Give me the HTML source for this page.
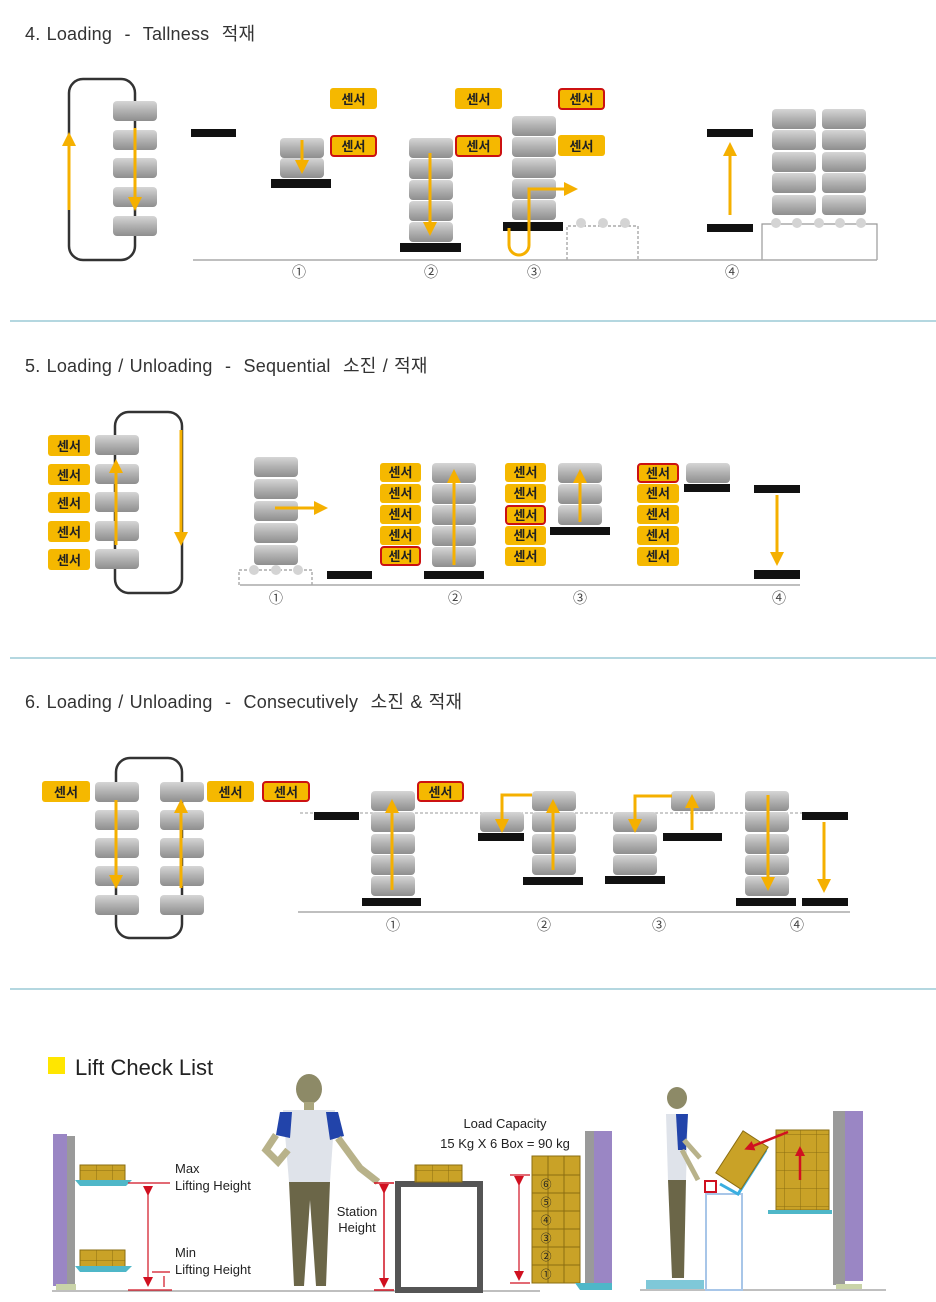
<!DOCTYPE html>
<html><head><meta charset="utf-8">
<style>
html,body{margin:0;padding:0;background:#fff;}
svg{display:block;}
text{font-family:"Liberation Sans","Noto Sans CJK KR",sans-serif;}
.t{font-size:18px;fill:#333;white-space:pre;letter-spacing:0.2px;word-spacing:1px;}
.s{font-size:13px;font-weight:bold;fill:#222;}
.n{font-size:14px;fill:#444;}
.sm{font-size:13px;fill:#222;}
</style></head><body>
<svg width="936" height="1302" viewBox="0 0 936 1302" xmlns="http://www.w3.org/2000/svg">
<defs>
<linearGradient id="tg" x1="0" y1="0" x2="0" y2="1">
<stop offset="0" stop-color="#d6d6d6"/><stop offset="0.45" stop-color="#b4b4b4"/><stop offset="1" stop-color="#8e8e8e"/>
</linearGradient>
<symbol id="tote" viewBox="0 0 44 20" width="44" height="20" overflow="visible"><rect x="0" y="0" width="44" height="20" rx="4" fill="url(#tg)"/></symbol>
<marker id="ahb" markerWidth="14" markerHeight="14" refX="8" refY="7" orient="auto" markerUnits="userSpaceOnUse" viewBox="0 0 14 14"><path d="M0,0 L14,7 L0,14 z" fill="#f5b000"/></marker>
<marker id="rh" markerWidth="10" markerHeight="10" refX="6" refY="5" orient="auto" markerUnits="userSpaceOnUse" viewBox="0 0 10 10"><path d="M0,0 L10,5 L0,10 z" fill="#d01020"/></marker>
<pattern id="box" width="16" height="18" patternUnits="userSpaceOnUse"><rect width="16" height="18" fill="#c9a227"/><path d="M0,0 H16 M0,0 V18" stroke="#8a6d12" stroke-width="1"/></pattern>
</defs>

<!-- ===== Section 4 ===== -->
<text x="25" y="40" class="t">4. Loading  -  Tallness  적재</text>
<rect x="69" y="79" width="66" height="181" rx="14" fill="none" stroke="#333" stroke-width="2.5"/>
<use href="#tote" x="113" y="101"/>
<use href="#tote" x="113" y="130"/>
<use href="#tote" x="113" y="158"/>
<use href="#tote" x="113" y="187"/>
<use href="#tote" x="113" y="216"/>
<g stroke="#f5b000" stroke-width="3" fill="none">
<line x1="69" y1="210" x2="69" y2="138" marker-end="url(#ahb)"/>
<line x1="135" y1="128" x2="135" y2="205" marker-end="url(#ahb)"/>
</g>
<rect x="191" y="129" width="45" height="8" fill="#111"/>
<g>
<rect x="330" y="88" width="47" height="21" rx="3" fill="#f5b800"/><text x="353.5" y="104" text-anchor="middle" class="s">센서</text>
<rect x="331" y="136" width="45" height="20" rx="3" fill="#f5b800" stroke="#cc1111" stroke-width="2"/><text x="353.5" y="151" text-anchor="middle" class="s">센서</text>
<rect x="455" y="88" width="47" height="21" rx="3" fill="#f5b800"/><text x="478.5" y="104" text-anchor="middle" class="s">센서</text>
<rect x="456" y="136" width="45" height="20" rx="3" fill="#f5b800" stroke="#cc1111" stroke-width="2"/><text x="478.5" y="151" text-anchor="middle" class="s">센서</text>
<rect x="559" y="89" width="45" height="20" rx="3" fill="#f5b800" stroke="#cc1111" stroke-width="2"/><text x="581.5" y="104" text-anchor="middle" class="s">센서</text>
<rect x="558" y="135" width="47" height="21" rx="3" fill="#f5b800"/><text x="581.5" y="151" text-anchor="middle" class="s">센서</text>
</g>
<use href="#tote" x="280" y="138"/><use href="#tote" x="280" y="158"/>
<rect x="271" y="179" width="60" height="9" fill="#111"/>
<line x1="302" y1="140" x2="302" y2="168" stroke="#f5b000" stroke-width="3" marker-end="url(#ahb)"/>
<use href="#tote" x="409" y="138"/><use href="#tote" x="409" y="159"/><use href="#tote" x="409" y="180"/><use href="#tote" x="409" y="201"/><use href="#tote" x="409" y="222"/>
<rect x="400" y="243" width="61" height="9" fill="#111"/>
<line x1="430" y1="153" x2="430" y2="230" stroke="#f5b000" stroke-width="3" marker-end="url(#ahb)"/>
<use href="#tote" x="512" y="116"/><use href="#tote" x="512" y="137"/><use href="#tote" x="512" y="158"/><use href="#tote" x="512" y="179"/><use href="#tote" x="512" y="200"/>
<rect x="503" y="222" width="60" height="9" fill="#111"/>
<path d="M509,228 V245 A10,10 0 0 0 529,245 V189 H572" fill="none" stroke="#f5b000" stroke-width="3" marker-end="url(#ahb)"/>
<path d="M567,260 V226 H638 V260" fill="none" stroke="#999" stroke-width="1.2" stroke-dasharray="3,2"/>
<g fill="#d4d4d4"><circle cx="581" cy="223" r="5"/><circle cx="603" cy="223" r="5"/><circle cx="625" cy="223" r="5"/></g>
<rect x="707" y="129" width="46" height="8" fill="#111"/>
<rect x="707" y="224" width="46" height="8" fill="#111"/>
<line x1="730" y1="215" x2="730" y2="148" stroke="#f5b000" stroke-width="3" marker-end="url(#ahb)"/>
<g>
<use href="#tote" x="772" y="109"/><use href="#tote" x="772" y="130"/><use href="#tote" x="772" y="152"/><use href="#tote" x="772" y="173"/><use href="#tote" x="772" y="195"/>
<use href="#tote" x="822" y="109"/><use href="#tote" x="822" y="130"/><use href="#tote" x="822" y="152"/><use href="#tote" x="822" y="173"/><use href="#tote" x="822" y="195"/>
</g>
<path d="M762,260 V224 H877 V260" fill="none" stroke="#999" stroke-width="1.2"/>
<g fill="#d4d4d4"><circle cx="776" cy="223" r="5"/><circle cx="797" cy="223" r="5"/><circle cx="819" cy="223" r="5"/><circle cx="840" cy="223" r="5"/><circle cx="861" cy="223" r="5"/></g>
<line x1="193" y1="260" x2="877" y2="260" stroke="#aaa" stroke-width="1.5"/>
<g class="n" text-anchor="middle"><text x="299" y="277">①</text><text x="431" y="277">②</text><text x="534" y="277">③</text><text x="732" y="277">④</text></g>
<line x1="10" y1="321" x2="936" y2="321" stroke="#9ccad6" stroke-width="1.5"/>

<!-- ===== Section 5 ===== -->
<text x="25" y="372" class="t">5. Loading / Unloading  -  Sequential  소진 / 적재</text>
<rect x="115" y="412" width="67" height="181" rx="14" fill="none" stroke="#333" stroke-width="2.5"/>
<g>
<rect x="48" y="435" width="42" height="21" rx="3" fill="#f5b800"/><text x="69" y="451" text-anchor="middle" class="s">센서</text>
<rect x="48" y="464" width="42" height="21" rx="3" fill="#f5b800"/><text x="69" y="480" text-anchor="middle" class="s">센서</text>
<rect x="48" y="492" width="42" height="21" rx="3" fill="#f5b800"/><text x="69" y="508" text-anchor="middle" class="s">센서</text>
<rect x="48" y="521" width="42" height="21" rx="3" fill="#f5b800"/><text x="69" y="537" text-anchor="middle" class="s">센서</text>
<rect x="48" y="549" width="42" height="21" rx="3" fill="#f5b800"/><text x="69" y="565" text-anchor="middle" class="s">센서</text>
</g>
<use href="#tote" x="95" y="435"/><use href="#tote" x="95" y="464"/><use href="#tote" x="95" y="492"/><use href="#tote" x="95" y="521"/><use href="#tote" x="95" y="549"/>
<line x1="116" y1="545" x2="116" y2="465" stroke="#f5b000" stroke-width="3" marker-end="url(#ahb)"/>
<line x1="181" y1="430" x2="181" y2="540" stroke="#f5b000" stroke-width="3" marker-end="url(#ahb)"/>
<use href="#tote" x="254" y="457"/><use href="#tote" x="254" y="479"/><use href="#tote" x="254" y="501"/><use href="#tote" x="254" y="523"/><use href="#tote" x="254" y="545"/>
<path d="M239,585 V570 H312 V585" fill="none" stroke="#999" stroke-width="1.2" stroke-dasharray="3,2"/>
<g fill="#d4d4d4"><circle cx="254" cy="570" r="5"/><circle cx="276" cy="570" r="5"/><circle cx="298" cy="570" r="5"/></g>
<line x1="275" y1="508" x2="322" y2="508" stroke="#f5b000" stroke-width="3" marker-end="url(#ahb)"/>
<rect x="327" y="571" width="45" height="8" fill="#111"/>
<g>
<rect x="380" y="463" width="41" height="19" rx="3" fill="#f5b800"/><text x="400.5" y="477" text-anchor="middle" class="s">센서</text>
<rect x="380" y="484" width="41" height="19" rx="3" fill="#f5b800"/><text x="400.5" y="498" text-anchor="middle" class="s">센서</text>
<rect x="380" y="505" width="41" height="19" rx="3" fill="#f5b800"/><text x="400.5" y="519" text-anchor="middle" class="s">센서</text>
<rect x="380" y="526" width="41" height="19" rx="3" fill="#f5b800"/><text x="400.5" y="540" text-anchor="middle" class="s">센서</text>
<rect x="381" y="547" width="39" height="18" rx="3" fill="#f5b800" stroke="#cc1111" stroke-width="2"/><text x="400.5" y="561" text-anchor="middle" class="s">센서</text>
</g>
<use href="#tote" x="432" y="463"/><use href="#tote" x="432" y="484"/><use href="#tote" x="432" y="505"/><use href="#tote" x="432" y="526"/><use href="#tote" x="432" y="547"/>
<rect x="424" y="571" width="60" height="8" fill="#111"/>
<line x1="454" y1="565" x2="454" y2="475" stroke="#f5b000" stroke-width="3" marker-end="url(#ahb)"/>
<g>
<rect x="505" y="463" width="41" height="19" rx="3" fill="#f5b800"/><text x="525.5" y="477" text-anchor="middle" class="s">센서</text>
<rect x="505" y="484" width="41" height="19" rx="3" fill="#f5b800"/><text x="525.5" y="498" text-anchor="middle" class="s">센서</text>
<rect x="506" y="506" width="39" height="18" rx="3" fill="#f5b800" stroke="#cc1111" stroke-width="2"/><text x="525.5" y="520" text-anchor="middle" class="s">센서</text>
<rect x="505" y="526" width="41" height="19" rx="3" fill="#f5b800"/><text x="525.5" y="540" text-anchor="middle" class="s">센서</text>
<rect x="505" y="547" width="41" height="19" rx="3" fill="#f5b800"/><text x="525.5" y="561" text-anchor="middle" class="s">센서</text>
</g>
<use href="#tote" x="558" y="463"/><use href="#tote" x="558" y="484"/><use href="#tote" x="558" y="505"/>
<rect x="550" y="527" width="60" height="8" fill="#111"/>
<line x1="580" y1="522" x2="580" y2="475" stroke="#f5b000" stroke-width="3" marker-end="url(#ahb)"/>
<g>
<rect x="638" y="464" width="40" height="18" rx="3" fill="#f5b800" stroke="#cc1111" stroke-width="2"/><text x="658" y="478" text-anchor="middle" class="s">센서</text>
<rect x="637" y="484" width="42" height="19" rx="3" fill="#f5b800"/><text x="658" y="498" text-anchor="middle" class="s">센서</text>
<rect x="637" y="505" width="42" height="19" rx="3" fill="#f5b800"/><text x="658" y="519" text-anchor="middle" class="s">센서</text>
<rect x="637" y="526" width="42" height="19" rx="3" fill="#f5b800"/><text x="658" y="540" text-anchor="middle" class="s">센서</text>
<rect x="637" y="547" width="42" height="19" rx="3" fill="#f5b800"/><text x="658" y="561" text-anchor="middle" class="s">센서</text>
</g>
<use href="#tote" x="686" y="463"/>
<rect x="684" y="484" width="46" height="8" fill="#111"/>
<rect x="754" y="485" width="46" height="8" fill="#111"/>
<rect x="754" y="570" width="46" height="9" fill="#111"/>
<line x1="777" y1="495" x2="777" y2="560" stroke="#f5b000" stroke-width="3" marker-end="url(#ahb)"/>
<line x1="240" y1="585" x2="800" y2="585" stroke="#aaa" stroke-width="1.5"/>
<g class="n" text-anchor="middle"><text x="276" y="603">①</text><text x="455" y="603">②</text><text x="580" y="603">③</text><text x="779" y="603">④</text></g>
<line x1="10" y1="658" x2="936" y2="658" stroke="#9ccad6" stroke-width="1.5"/>

<!-- ===== Section 6 ===== -->
<text x="25" y="708" class="t">6. Loading / Unloading  -  Consecutively  소진 &amp; 적재</text>
<rect x="116" y="758" width="66" height="180" rx="14" fill="none" stroke="#333" stroke-width="2.5"/>
<use href="#tote" x="95" y="782"/><use href="#tote" x="95" y="810"/><use href="#tote" x="95" y="838"/><use href="#tote" x="95" y="866"/><use href="#tote" x="95" y="895"/>
<use href="#tote" x="160" y="782"/><use href="#tote" x="160" y="810"/><use href="#tote" x="160" y="838"/><use href="#tote" x="160" y="866"/><use href="#tote" x="160" y="895"/>
<line x1="116" y1="800" x2="116" y2="883" stroke="#f5b000" stroke-width="3" marker-end="url(#ahb)"/>
<line x1="181" y1="888" x2="181" y2="805" stroke="#f5b000" stroke-width="3" marker-end="url(#ahb)"/>
<rect x="42" y="781" width="48" height="21" rx="3" fill="#f5b800"/><text x="66" y="797" text-anchor="middle" class="s">센서</text>
<rect x="207" y="781" width="47" height="21" rx="3" fill="#f5b800"/><text x="230.5" y="797" text-anchor="middle" class="s">센서</text>
<rect x="263" y="782" width="46" height="19" rx="3" fill="#f5b800" stroke="#cc1111" stroke-width="2"/><text x="286" y="797" text-anchor="middle" class="s">센서</text>
<line x1="300" y1="813" x2="848" y2="813" stroke="#999" stroke-width="1" stroke-dasharray="3,2"/>
<rect x="314" y="812" width="45" height="8" fill="#111"/>
<use href="#tote" x="371" y="791"/><use href="#tote" x="371" y="812"/><use href="#tote" x="371" y="834"/><use href="#tote" x="371" y="855"/><use href="#tote" x="371" y="876"/>
<rect x="362" y="898" width="59" height="8" fill="#111"/>
<line x1="392" y1="890" x2="392" y2="805" stroke="#f5b000" stroke-width="3" marker-end="url(#ahb)"/>
<rect x="418" y="782" width="45" height="19" rx="3" fill="#f5b800" stroke="#cc1111" stroke-width="2"/><text x="440.5" y="797" text-anchor="middle" class="s">센서</text>
<use href="#tote" x="480" y="812"/>
<rect x="478" y="833" width="46" height="8" fill="#111"/>
<use href="#tote" x="532" y="791"/><use href="#tote" x="532" y="812"/><use href="#tote" x="532" y="834"/><use href="#tote" x="532" y="855"/>
<rect x="523" y="877" width="60" height="8" fill="#111"/>
<line x1="553" y1="870" x2="553" y2="805" stroke="#f5b000" stroke-width="3" marker-end="url(#ahb)"/>
<path d="M532,795 H502 V827" fill="none" stroke="#f5b000" stroke-width="3" marker-end="url(#ahb)"/>
<use href="#tote" x="613" y="812"/><use href="#tote" x="613" y="834"/><use href="#tote" x="613" y="855"/>
<rect x="605" y="876" width="60" height="8" fill="#111"/>
<use href="#tote" x="671" y="791"/>
<rect x="663" y="833" width="59" height="8" fill="#111"/>
<line x1="692" y1="830" x2="692" y2="800" stroke="#f5b000" stroke-width="3" marker-end="url(#ahb)"/>
<path d="M672,796 H635 V827" fill="none" stroke="#f5b000" stroke-width="3" marker-end="url(#ahb)"/>
<use href="#tote" x="745" y="791"/><use href="#tote" x="745" y="812"/><use href="#tote" x="745" y="834"/><use href="#tote" x="745" y="855"/><use href="#tote" x="745" y="876"/>
<rect x="736" y="898" width="60" height="8" fill="#111"/>
<line x1="768" y1="795" x2="768" y2="885" stroke="#f5b000" stroke-width="3" marker-end="url(#ahb)"/>
<rect x="802" y="812" width="46" height="8" fill="#111"/>
<rect x="802" y="898" width="46" height="8" fill="#111"/>
<line x1="824" y1="822" x2="824" y2="887" stroke="#f5b000" stroke-width="3" marker-end="url(#ahb)"/>
<line x1="298" y1="912" x2="850" y2="912" stroke="#aaa" stroke-width="1.5"/>
<g class="n" text-anchor="middle"><text x="393" y="930">①</text><text x="544" y="930">②</text><text x="659" y="930">③</text><text x="797" y="930">④</text></g>
<line x1="10" y1="989" x2="936" y2="989" stroke="#9ccad6" stroke-width="1.5"/>

<!-- ===== Lift Check List ===== -->
<rect x="48" y="1057" width="17" height="17" fill="#ffe600"/>
<text x="75" y="1075" style="font-size:22px;fill:#222">Lift Check List</text>
<line x1="52" y1="1291" x2="540" y2="1291" stroke="#aaa" stroke-width="1.5"/>
<rect x="53" y="1134" width="14" height="152" fill="#9a86c4"/>
<rect x="67" y="1136" width="8" height="152" fill="#9a9a9a"/>
<rect x="56" y="1284" width="20" height="6" fill="#c9d3a8"/>
<rect x="80" y="1165" width="45" height="16" fill="url(#box)" stroke="#8a6d12"/>
<path d="M75,1180 L132,1180 L126,1186 L80,1186 Z" fill="#4fb7c8"/>
<rect x="80" y="1250" width="45" height="17" fill="url(#box)" stroke="#8a6d12"/>
<path d="M75,1266 L132,1266 L126,1272 L80,1272 Z" fill="#4fb7c8"/>
<g stroke="#d01020" stroke-width="1.2" fill="none">
<line x1="128" y1="1183" x2="170" y2="1183"/>
<line x1="128" y1="1290" x2="172" y2="1290"/>
<line x1="152" y1="1272" x2="170" y2="1272"/>
<line x1="148" y1="1192" x2="148" y2="1283" marker-start="url(#rh)" marker-end="url(#rh)"/>
<line x1="164" y1="1276" x2="164" y2="1287"/>
</g>
<text x="175" y="1173" class="sm">Max</text><text x="175" y="1190" class="sm">Lifting Height</text>
<text x="175" y="1257" class="sm">Min</text><text x="175" y="1274" class="sm">Lifting Height</text>
<ellipse cx="309" cy="1089" rx="13" ry="15" fill="#8d8a67"/>
<rect x="304" y="1102" width="10" height="8" fill="#a9a57d"/>
<path d="M283,1110 L335,1110 L330,1182 L289,1182 Z" fill="#dfe3ea"/>
<path d="M280,1112 L292,1112 L290,1138 L276,1135 Z" fill="#2244aa"/>
<path d="M326,1112 L338,1112 L344,1136 L330,1140 Z" fill="#2244aa"/>
<path d="M276,1135 L266,1150 L278,1162 L288,1150" fill="none" stroke="#b8b28a" stroke-width="7"/>
<path d="M338,1138 L360,1168 L378,1182" fill="none" stroke="#b8b28a" stroke-width="7"/>
<path d="M289,1182 L330,1182 L326,1286 L316,1286 L310,1200 L304,1286 L294,1286 Z" fill="#6b6648"/>
<rect x="398" y="1184" width="82" height="106" fill="none" stroke="#555" stroke-width="6"/>
<rect x="415" y="1165" width="47" height="17" fill="url(#box)" stroke="#8a6d12"/>
<g stroke="#d01020" stroke-width="1.5" fill="none">
<line x1="374" y1="1183" x2="394" y2="1183"/><line x1="374" y1="1290" x2="394" y2="1290"/>
<line x1="384" y1="1190" x2="384" y2="1284" marker-start="url(#rh)" marker-end="url(#rh)"/>
</g>
<text x="357" y="1216" class="sm" text-anchor="middle">Station</text><text x="357" y="1232" class="sm" text-anchor="middle">Height</text>
<text x="505" y="1128" class="sm" text-anchor="middle">Load Capacity</text>
<text x="505" y="1148" class="sm" text-anchor="middle">15 Kg X 6 Box = 90 kg</text>
<rect x="532" y="1156" width="48" height="127" fill="#c9a227" stroke="#8a6d12"/>
<g stroke="#8a6d12" stroke-width="1"><line x1="548" y1="1156" x2="548" y2="1283"/><line x1="564" y1="1156" x2="564" y2="1283"/>
<line x1="532" y1="1175" x2="580" y2="1175"/><line x1="532" y1="1193" x2="580" y2="1193"/><line x1="532" y1="1211" x2="580" y2="1211"/><line x1="532" y1="1229" x2="580" y2="1229"/><line x1="532" y1="1247" x2="580" y2="1247"/><line x1="532" y1="1265" x2="580" y2="1265"/></g>
<g class="sm" text-anchor="middle" style="font-size:11px"><text x="546" y="1188">⑥</text><text x="546" y="1206">⑤</text><text x="546" y="1224">④</text><text x="546" y="1242">③</text><text x="546" y="1260">②</text><text x="546" y="1278">①</text></g>
<g stroke="#d01020" stroke-width="1.2" fill="none">
<line x1="510" y1="1175" x2="530" y2="1175"/><line x1="510" y1="1283" x2="530" y2="1283"/>
<line x1="519" y1="1182" x2="519" y2="1277" marker-start="url(#rh)" marker-end="url(#rh)"/>
</g>
<rect x="585" y="1131" width="9" height="155" fill="#9a9a9a"/>
<rect x="594" y="1131" width="18" height="152" fill="#9a86c4"/>
<path d="M575,1283 L612,1283 L612,1290 L580,1290 Z" fill="#4fb7c8"/>
<line x1="640" y1="1290" x2="886" y2="1290" stroke="#aaa" stroke-width="1.5"/>
<rect x="646" y="1280" width="58" height="9" fill="#7fc8d8"/>
<ellipse cx="677" cy="1098" rx="10" ry="11" fill="#8d8a67"/>
<path d="M666,1114 L688,1114 L686,1180 L668,1180 Z" fill="#dfe3ea"/>
<path d="M676,1114 L688,1114 L686,1150 L678,1150 Z" fill="#2244aa"/>
<path d="M668,1180 L686,1180 L684,1278 L672,1278 Z" fill="#6b6648"/>
<path d="M684,1140 L700,1158 M682,1150 L698,1180" stroke="#b8b28a" stroke-width="5" fill="none"/>
<rect x="706" y="1194" width="36" height="96" fill="none" stroke="#a8c6e8" stroke-width="2"/>
<rect x="705" y="1181" width="11" height="11" fill="none" stroke="#d01020" stroke-width="2"/>
<path d="M720,1184 L738,1194 L766,1150" fill="none" stroke="#3aaee0" stroke-width="3"/>
<rect x="727" y="1135" width="30" height="50" fill="#c9a227" stroke="#8a6d12" transform="rotate(33 742 1160)"/>
<rect x="776" y="1130" width="53" height="80" fill="url(#box)" stroke="#8a6d12"/>
<path d="M768,1210 L832,1210 L832,1214 L768,1214 Z" fill="#4fb7c8"/>
<line x1="788" y1="1132" x2="748" y2="1148" stroke="#d01020" stroke-width="2.5" marker-end="url(#rh)"/>
<line x1="800" y1="1180" x2="800" y2="1150" stroke="#d01020" stroke-width="2.5" marker-end="url(#rh)"/>
<rect x="833" y="1111" width="12" height="174" fill="#9a9a9a"/>
<rect x="845" y="1111" width="18" height="170" fill="#9a86c4"/>
<rect x="836" y="1284" width="26" height="5" fill="#c9d3a8"/>
</svg>
</body></html>
